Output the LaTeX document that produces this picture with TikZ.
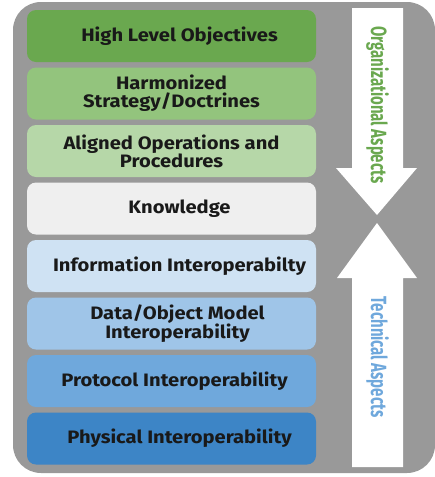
\documentclass[tikz,border=0pt]{standalone}
\usepackage{fontspec}
\setmainfont{Fira Sans}
\newfontfamily\layerfont[FakeStretch=1.12]{Fira Sans Bold}
\newfontfamily\narrowfont[FakeStretch=0.68]{Fira Sans Bold}
\definecolor{framegray}{RGB}{153, 153, 153}
\definecolor{green1}{RGB}{106, 168, 79}
\definecolor{green2}{RGB}{147, 196, 125}
\definecolor{green3}{RGB}{182, 215, 168}
\definecolor{gray1}{RGB}{239, 239, 239}
\definecolor{blue4}{RGB}{207, 226, 243}
\definecolor{blue3}{RGB}{159, 197, 232}
\definecolor{blue2}{RGB}{111, 168, 220}
\definecolor{blue1}{RGB}{61, 133, 198}
\usetikzlibrary{positioning}
\tikzset{
  layer/.style={rounded corners=9pt, minimum width=289pt, minimum height=52pt, inner sep=0pt},
  laytext/.style={font=\fontsize{18}{18}\selectfont\layerfont, align=center, text=black!90},
  aspect/.style={font=\fontsize{22}{22}\selectfont\narrowfont, rotate=-90, inner sep=0pt}
}

\begin{document}
\begin{tikzpicture}[x=1pt, y=-1pt]
  \useasboundingbox (0,0) rectangle (435,477);
  \fill[framegray, rounded corners=28pt] (13,2) rectangle (435,473);

  % Layers
  \node[layer, fill=green1, label={[laytext, xshift=8pt]center:High Level Objectives}] (objectives) at (171.5, 36) {};
  \node[layer, fill=green2, label={[laytext]center:{Harmonized\\Strategy/Doctrines}}] (strategy) at (171.5, 93.5) {};
  \node[layer, fill=green3, label={[laytext]center:{Aligned Operations and\\Procedures}}] (operations) at (171.5, 151) {};
  \node[layer, fill=gray1, label={[laytext, xshift=8pt]center:Knowledge}] (knowledge) at (171.5, 208.5) {};
  \node[layer, fill=blue4, label={[laytext, xshift=8pt]center:Information Interoperabilty}] (information) at (171.5, 266) {};
  \node[layer, fill=blue3, label={[laytext, xshift=6pt]center:{Data/Object Model\\Interoperability}}] (datamodel) at (171.5, 323.5) {};
  \node[layer, fill=blue2, label={[laytext, xshift=3pt]center:Protocol Interoperability}] (protocol) at (171.5, 381) {};
  \node[layer, fill=blue1, label={[laytext, xshift=8pt]center:Physical Interoperability}] (physical) at (171.5, 438.5) {};

  % Aspect arrows
  \fill[white] (352,8) -- (403,8) -- (403,168) -- (417,168) -- (377,215) -- (336,168) -- (352,168) -- cycle;
  \fill[white] (377,223) -- (417,278) -- (403,278) -- (403,467) -- (352,467) -- (352,278) -- (337,278) -- cycle;
  \node[aspect, text=green1] (organizational) at (377.5, 105) {Organizational Aspects};
  \node[aspect, text=blue2] (technical) at (377.5, 357) {Technical Aspects};
\end{tikzpicture}
\end{document}
